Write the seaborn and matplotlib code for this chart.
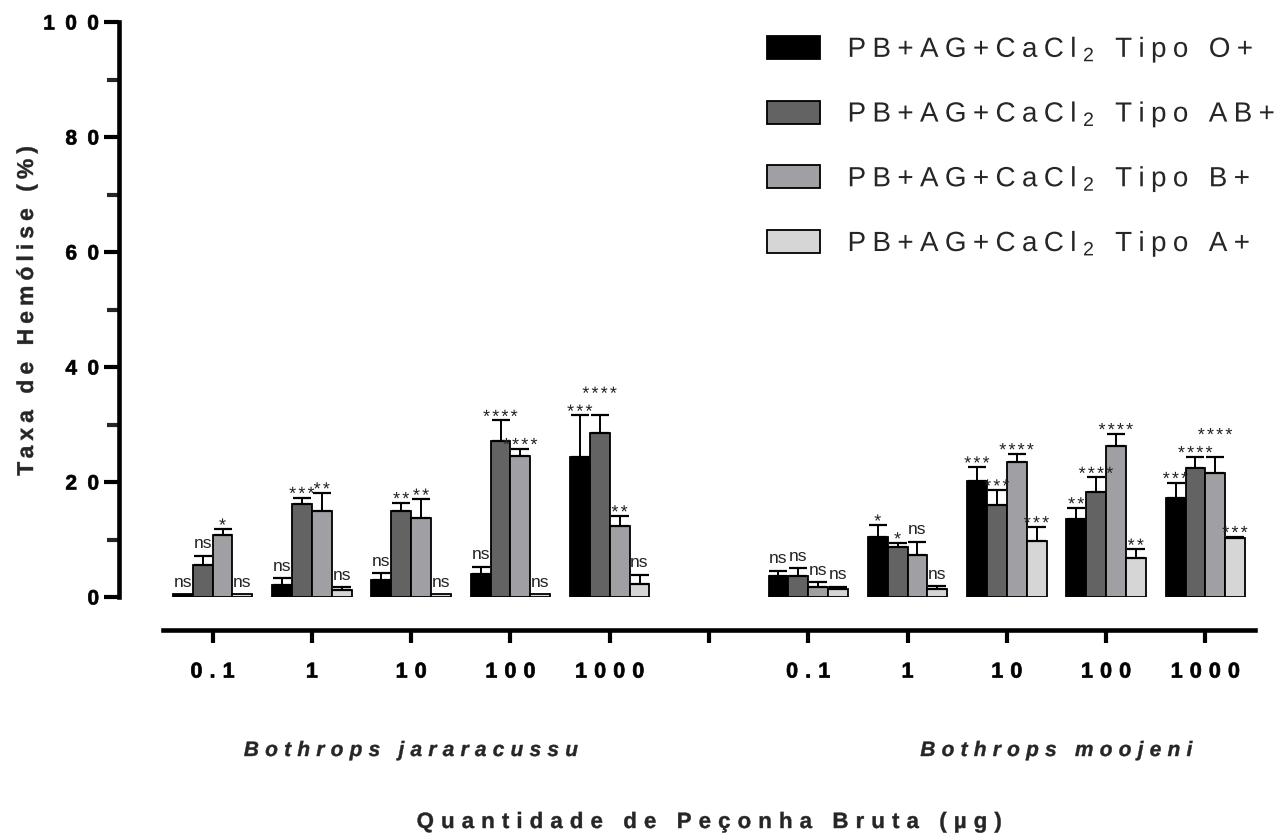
import numpy as np
import pandas as pd
import matplotlib
matplotlib.use("Agg")
import matplotlib.pyplot as plt
from matplotlib import patheffects
from matplotlib.path import Path
from matplotlib.ticker import MultipleLocator
from matplotlib.container import BarContainer
import seaborn as sns

# Doses of crude venom (µg) for each species; the middle slot is an empty spacer
doses = ["0.1", "1", "10", "100", "1000"]
especies = ["Bothrops jararacussu", "Bothrops moojeni"]
grupos = ["PB+AG+CaCl$_2$ Tipo O+", "PB+AG+CaCl$_2$ Tipo AB+",
          "PB+AG+CaCl$_2$ Tipo B+", "PB+AG+CaCl$_2$ Tipo A+"]
cores = ["#000000", "#636363", "#a0a0a4", "#d6d6d6"]

# Hemolysis mean (%) per blood type: 5 doses B. jararacussu, then 5 doses B. moojeni
tipo_O = [0.5, 2.1, 2.9, 4.0, 24.3, 3.7, 10.4, 20.1, 13.6, 17.2]
tipo_AB = [5.5, 16.1, 14.9, 27.2, 28.6, 3.7, 8.7, 16.0, 18.2, 22.5]
tipo_B = [10.8, 14.9, 13.7, 24.5, 12.4, 1.8, 7.3, 23.5, 26.3, 21.5]
tipo_A = [0.5, 1.2, 0.5, 0.5, 2.3, 1.4, 1.4, 9.8, 6.8, 10.3]

# Standard deviations
dp_O = [0.0, 1.2, 1.2, 1.3, 7.3, 0.9, 2.1, 2.5, 1.9, 2.7]
dp_AB = [1.7, 1.2, 1.5, 3.5, 3.0, 1.3, 0.7, 2.6, 2.6, 1.9]
dp_B = [1.0, 3.2, 3.3, 1.3, 1.7, 0.8, 2.3, 1.4, 2.1, 2.8]
dp_A = [0.0, 0.5, 0.0, 0.0, 1.6, 0.4, 0.5, 2.4, 1.5, 0.2]

# Significance marks
sig_O = ["ns", "ns", "ns", "ns", "***", "ns", "*", "***", "**", "***"]
sig_AB = ["ns", "***", "**", "****", "****", "ns", "*", "***", "****", "****"]
sig_B = ["*", "**", "**", "****", "**", "ns", "ns", "****", "****", "****"]
sig_A = ["ns", "ns", "ns", "ns", "ns", "ns", "ns", "***", "**", "***"]

medias = [tipo_O, tipo_AB, tipo_B, tipo_A]
desvios = [dp_O, dp_AB, dp_B, dp_A]
sigs = [sig_O, sig_AB, sig_B, sig_A]


class Espacamento(patheffects.AbstractPathEffect):
    """Draws text outlines with extra tracking between the characters.

    em: extra advance per character, in em units.
    ancora: 0 keeps the left end fixed, 0.5 the centre, 1 the right end.
    espaco: outline gap (in 1/100 em) above which a word space is assumed.
    traco: optional outline stroke width (points) to thicken the glyphs.
    """

    def __init__(self, em=0.25, ancora=0.0, espaco=26.0, traco=0.0):
        super().__init__()
        self.em = em
        self.ancora = ancora
        self.espaco = espaco
        self.traco = traco

    def draw_path(self, renderer, gc, tpath, affine, rgbFace=None):
        contornos = []
        for verts, code in tpath.iter_segments(curves=True, simplify=False):
            pts = np.asarray(verts, float).reshape(-1, 2)
            if code == Path.MOVETO or not contornos:
                contornos.append(([], []))
            contornos[-1][0].extend(pts)
            contornos[-1][1].extend([code] * len(pts))
        novo = tpath
        if len(contornos) >= 2:
            info = []
            for v, c in contornos:
                v = np.array(v)
                c = np.array(c, dtype=Path.code_type)
                m = c != Path.CLOSEPOLY
                xs = v[m, 0] if m.any() else v[:, 0]
                info.append([xs.min(), xs.max(), v, c])
            info.sort(key=lambda t: t[0])
            glifos = []
            for x0, x1, v, c in info:
                if glifos:
                    g = glifos[-1]
                    sobre = min(x1, g[1]) - max(x0, g[0])
                    if sobre > 0.3 * min(x1 - x0, g[1] - g[0]):
                        g[1] = max(g[1], x1)
                        g[2].append((v, c))
                        continue
                glifos.append([x0, x1, [(v, c)]])
            # text paths are laid out at 100 units per em
            passo = self.em * 100.0
            deslocs, n = [], 0
            for i, g in enumerate(glifos):
                if i > 0:
                    n += 1
                    if g[0] - glifos[i - 1][1] > self.espaco:
                        n += 1
                deslocs.append(n)
            V, C = [], []
            for g, d in zip(glifos, deslocs):
                dx = (d - self.ancora * n) * passo
                for v, c in g[2]:
                    V.append(v + np.array([dx, 0.0]))
                    C.append(c)
            novo = Path(np.concatenate(V), np.concatenate(C))
        gc0 = renderer.new_gc()
        gc0.copy_properties(gc)
        if self.traco > 0 and rgbFace is not None:
            gc0.set_linewidth(self.traco)
            gc0.set_foreground(rgbFace)
        renderer.draw_path(gc0, novo, affine, rgbFace)
        gc0.restore()


# Category slots: 5 doses, spacer, 5 doses
slots = [f"J {d}" for d in doses] + ["vazio"] + [f"M {d}" for d in doses]
slots_dados = [s for s in slots if s != "vazio"]

linhas = []
for g, vals in zip(grupos, medias):
    for s, v in zip(slots_dados, vals):
        linhas.append({"slot": s, "grupo": g, "valor": v})
df = pd.DataFrame(linhas)

sns.set_style("ticks")
plt.rcParams["font.family"] = ["Liberation Sans", "DejaVu Sans"]
plt.rcParams["mathtext.fontset"] = "custom"
plt.rcParams["mathtext.rm"] = "Liberation Sans"
plt.rcParams["mathtext.default"] = "regular"

W, H = 1286, 835
fig = plt.figure(figsize=(W / 100, H / 100), dpi=100)
ax = fig.add_axes([163 / W, 1 - 597 / H, (1255 - 163) / W, 575 / H])

sns.barplot(data=df, x="slot", y="valor", hue="grupo", order=slots,
            hue_order=grupos, palette=cores, errorbar=None, width=0.8,
            edgecolor="black", linewidth=1.3, saturation=1, ax=ax)

ax.set_xlim(-0.5, len(slots) - 0.5)
ax.set_ylim(0, 100)

# Upward SD bars, then collect label anchors per dose group
barras = [c for c in ax.containers if isinstance(c, BarContainer)]
por_dose = {}
for gi, cont in enumerate(barras):
    for bar in cont.patches:
        xc = bar.get_x() + bar.get_width() / 2
        h = bar.get_height()
        if np.isnan(h):
            continue
        k = slots_dados.index(slots[int(round(xc))])
        sd = desvios[gi][k]
        if sd > 0:
            ax.errorbar(xc, h, yerr=[[0], [sd]], fmt="none", ecolor="black",
                        elinewidth=1.4, capsize=6.5, capthick=1.6, zorder=1)
        por_dose.setdefault(k, []).append((xc, gi, h + sd))

# Significance labels, lifted when they would collide with a neighbour
renderer = fig.canvas.get_renderer()
for k, itens in por_dose.items():
    feitos = []
    for xc, gi, topo in sorted(itens):
        marca = sigs[gi][k]
        if marca == "ns":
            rot = ax.annotate(marca, (xc, topo), xytext=(0, 7.5),
                              textcoords="offset pixels", ha="center",
                              va="baseline", fontsize=12.5, color="#222222")
        else:
            rot = ax.annotate(marca, (xc, topo), xytext=(0, -1.7),
                              textcoords="offset pixels", ha="center",
                              va="baseline", fontsize=13, color="#222222",
                              path_effects=[Espacamento(0.12, 0.5)])
        mudou = True
        while mudou:
            mudou = False
            bb = rot.get_window_extent(renderer)
            for outro in feitos:
                ob = outro.get_window_extent(renderer)
                if (bb.x0 < ob.x1 and bb.x1 > ob.x0
                        and bb.y0 < ob.y1 and bb.y1 > ob.y0):
                    dx, dy = rot.xyann
                    rot.xyann = (dx, dy + (ob.y1 - bb.y0) + 1)
                    mudou = True
                    break
        feitos.append(rot)

ax.set_yticks(np.arange(0, 101, 20))
ax.yaxis.set_minor_locator(MultipleLocator(10))
ax.set_xticks(range(len(slots)))
ax.set_xticklabels([d for d in doses] + [""] + [d for d in doses])

sns.despine(ax=ax)
ax.spines["left"].set_position(("outward", 32))
ax.spines["bottom"].set_position(("outward", 24))
for lado in ["left", "bottom"]:
    ax.spines[lado].set_linewidth(3.3)
    ax.spines[lado].set_color("black")

ax.tick_params(axis="y", which="major", length=11, width=3.0, pad=3,
               labelsize=15, colors="black")
ax.tick_params(axis="y", which="minor", length=9, width=3.0)
ax.tick_params(axis="x", which="major", length=9.5, width=3.0, pad=13,
               labelsize=15.5, colors="black")
for t in ax.get_yticklabels():
    t.set_fontweight("bold")
    t.set_path_effects([Espacamento(0.5, 1.0, traco=0.5)])
for t in ax.get_xticklabels():
    t.set_fontweight("bold")
    t.set_path_effects([Espacamento(0.33, 0.5, traco=0.5)])

ylab = ax.set_ylabel("Taxa de Hemólise (%)", fontsize=16.5, fontweight="bold")
ax.yaxis.set_label_coords(-0.1145, 0.497)
ylab.set_path_effects([Espacamento(0.22, 0.5, traco=0.3)])

xlab = ax.set_xlabel("Quantidade de Peçonha Bruta (µg)", fontsize=16,
                     fontweight="bold")
ax.xaxis.set_label_coords(0.5, (597 - 828) / 575)
xlab.set_va("baseline")
xlab.set_path_effects([Espacamento(0.32, 0.5, traco=0.3)])

for pos, nome in zip([2.0, 8.5], especies):
    ax.text(pos, (597 - 756) / 575, nome, transform=ax.get_xaxis_transform(),
            ha="center", va="baseline", fontsize=15, fontweight="bold",
            fontstyle="italic",
            path_effects=[Espacamento(0.3, 0.5, 14.0, traco=0.3)])

handles, labels = ax.get_legend_handles_labels()
leg = ax.legend(handles, labels, loc="upper left", frameon=False,
                bbox_to_anchor=(767 / W, 1 - 35 / H),
                bbox_transform=fig.transFigure,
                fontsize=20, handlelength=1.9, handleheight=0.9,
                labelspacing=1.25, handletextpad=1.0, borderpad=0,
                borderaxespad=0)
for t in leg.get_texts():
    t.set_path_effects([Espacamento(0.23, 0.0)])

fig.savefig("out.png", dpi=100)
